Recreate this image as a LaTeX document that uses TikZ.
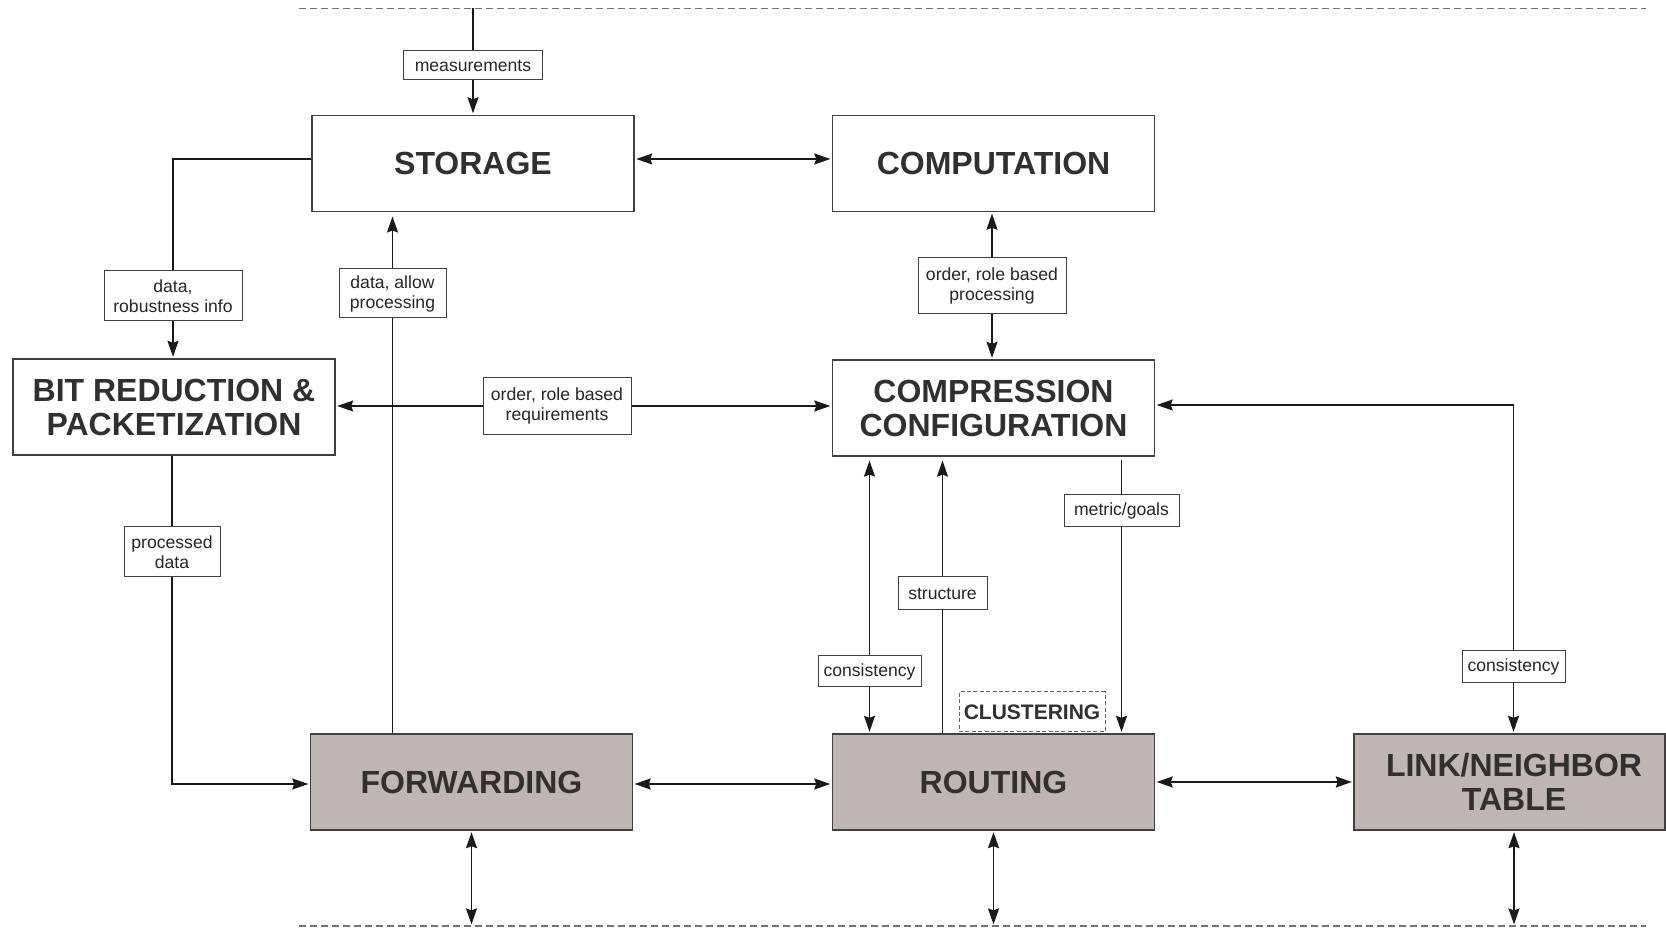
\documentclass[tikz,border=0pt]{standalone}
\usepackage{fontspec}
\setmainfont{Liberation Sans}
\usetikzlibrary{arrows.meta,calc}
\definecolor{boxgray}{RGB}{191,181,178}
\definecolor{txt}{RGB}{48,48,48}
\begin{document}
\begin{tikzpicture}[x=0.5pt,y=-0.5pt,
  blk/.style={draw=black!75, line width=0.6pt, minimum width=161pt, minimum height=48pt, align=center, font=\fontsize{16}{17}\selectfont\bfseries, text=txt, inner sep=0pt},
  blkg/.style={blk, fill=boxgray},
  lbl/.style={draw=black!75, line width=0.5pt, fill=white, align=center, font=\fontsize{8.8}{10}\selectfont, text=black!85, inner sep=0pt},
  con/.style={line width=0.8pt, draw=black!90},
  tip/.style={con, -{Stealth[length=8pt,width=5.5pt,inset=1pt]}, shorten >=0.8pt},
  tips/.style={con, {Stealth[length=8pt,width=5.5pt,inset=1pt]}-{Stealth[length=8pt,width=5.5pt,inset=1pt]}, shorten >=0.8pt, shorten <=0.8pt},
  bus/.style={draw=black!55, line width=0.6pt, dash pattern=on 3.5pt off 2pt}
]
\useasboundingbox (0,0) rectangle (1666,929);

% bus lines
\coordinate (busTL) at (299,8.5);
\coordinate (busTR) at (1646,8.5);
\coordinate (busBL) at (299,926);
\coordinate (busBR) at (1646,926);
\draw[bus] (busTL) -- (busTR);
\draw[bus] (busBL) -- (busBR);

% main blocks
\node[blk] (storage) at (473,163.5) {STORAGE};
\node[blk] (computation) at (993.5,163.5) {COMPUTATION};
\node[blk] (bitred) at (174,407) {BIT REDUCTION \&\\PACKETIZATION};
\node[blk] (compress) at (993.5,408) {COMPRESSION\\CONFIGURATION};
\node[blkg] (forwarding) at (471.5,782) {FORWARDING};
\node[blkg] (routing) at (993.5,782) {ROUTING};
\node[blkg, minimum width=155.5pt] (link) at (1509.5,782) {\hspace*{4.5pt}LINK/NEIGHBOR\\\hspace*{4.5pt}TABLE};

% labels
\node[lbl, minimum width=69.5pt, minimum height=14.5pt] (lmeas) at (473,65.5) {measurements};
\node[lbl, minimum width=69pt, minimum height=25pt] (lrob) at (173,296) {data,\\robustness info};
\node[lbl, minimum width=53.5pt, minimum height=24.5pt] (lallow) at (392.5,293.5) {data, allow\\processing};
\node[lbl, minimum width=74pt, minimum height=28pt] (lord) at (992,286) {order, role based\\processing};
\node[lbl, minimum width=74pt, minimum height=28.5pt] (lreq) at (557,406) {order, role based\\requirements};
\node[lbl, minimum width=48pt, minimum height=25pt] (lproc) at (172,552) {processed\\data};
\node[lbl, minimum width=51.5pt, minimum height=15.5pt] (lconsL) at (869.5,671.5) {consistency};
\node[lbl, minimum width=44.5pt, minimum height=16.5pt] (lstruct) at (942.5,593.5) {structure};
\node[lbl, minimum width=57.5pt, minimum height=16pt] (lmetric) at (1121.5,511) {metric/goals};
\node[lbl, minimum width=51.5pt, minimum height=16pt] (lconsR) at (1513.5,667) {consistency};
\node[draw=black!60, line width=0.5pt, dash pattern=on 2pt off 1.2pt, minimum width=73pt, minimum height=20pt, inner sep=0pt, font=\fontsize{10.5}{12}\selectfont\bfseries, text=txt] (clust) at (1032,712) {CLUSTERING};

% coordinates on the bus
\coordinate (t1) at (473,8.5);
\coordinate (b1) at (471.5,926);
\coordinate (b2) at (993.5,926);
\coordinate (b3) at (1514,926);

% connectors
\draw[con] (t1) -- (lmeas.north);
\draw[tip] (lmeas.south) -- (storage.north);
\draw[con] ([yshift=2.25pt]storage.west) -| (lrob.north);
\draw[tip] (lrob.south) -- (lrob.south |- bitred.north);
\draw[tips] ([yshift=2.25pt]storage.east) -- ([yshift=2.25pt]computation.west);
\draw[con] (lallow.south |- forwarding.north) -- (lallow.south);
\draw[tip, shorten >=2.2pt] (lallow.north) -- (lallow.north |- storage.south);
\draw[tip] (lord.north) -- (lord.north |- computation.south);
\draw[tip] (lord.south) -- (lord.south |- compress.north);
\draw[tip] (lreq.west) -- (lreq.west -| bitred.east);
\draw[tip] (lreq.east) -- (lreq.east -| compress.west);
\draw[con] (bitred.south -| lproc.north) -- (lproc.north);
\draw[tip] (lproc.south) |- ([yshift=-1pt]forwarding.west);
\draw[tips] ([yshift=-1pt]forwarding.east) -- ([yshift=-1pt]routing.west);
\draw[tips] (routing.east) -- (link.west);
\draw[tips] (forwarding.south) -- (b1);
\draw[tips] (routing.south) -- (b2);
\draw[tips] (link.south -| b3) -- (b3);
\draw[tip, shorten >=2pt] (lconsL.north) -- (lconsL.north |- compress.south);
\draw[tip] (lconsL.south) -- (lconsL.south |- routing.north);
\draw[con] (lstruct.south |- routing.north) -- (lstruct.south);
\draw[tip, shorten >=2pt] (lstruct.north) -- (lstruct.north |- compress.south);
\draw[con] ([yshift=-1.5pt]lmetric.north |- compress.south) -- (lmetric.north);
\draw[tip] (lmetric.south) -- (lmetric.south |- routing.north);
\draw[tip] (lconsR.north) |- ([yshift=1.5pt]compress.east);
\draw[tip] (lconsR.south) -- (lconsR.south |- link.north);
\end{tikzpicture}
\end{document}
